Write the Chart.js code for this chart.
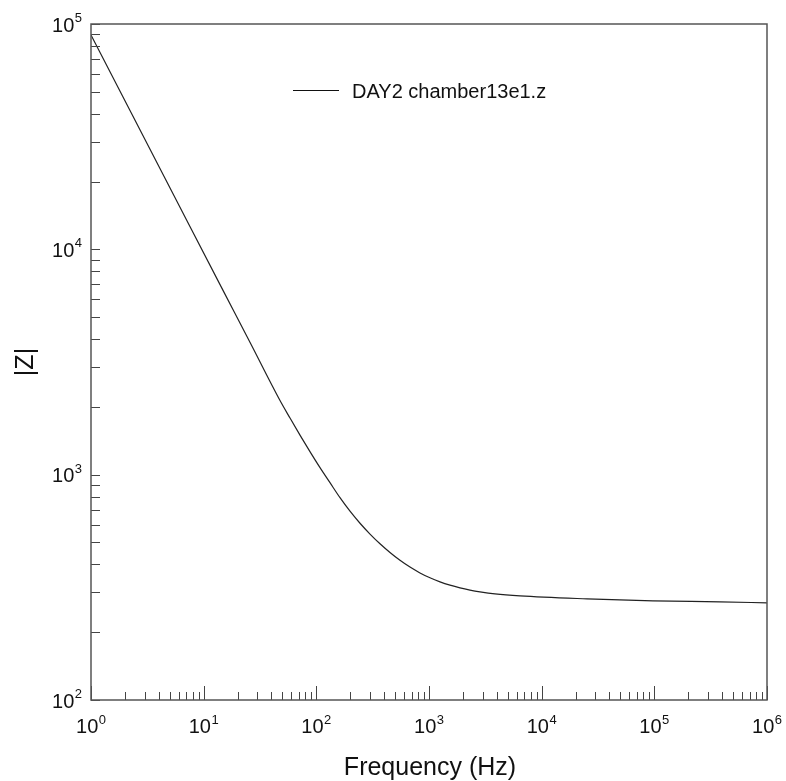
<!DOCTYPE html>
<html><head><meta charset="utf-8">
<script src="https://cdn.jsdelivr.net/npm/chart.js@4/dist/chart.umd.min.js"></script>
<style>html,body{margin:0;padding:0;background:#fff;}#wrap{width:786px;height:781px;}</style>
</head><body><div id="wrap"><canvas id="c" width="786" height="781"></canvas></div>
<script>
// ---- data ----
const frequencyHz = [1, 7.07, 14.85, 26.1, 47.6, 58.4, 71.6, 87.8, 107.8, 132.2, 162.2, 199, 244.1, 299.5, 367.3, 450.6, 552.7, 678.2, 831.8, 1020, 1252, 1536, 1884, 2311, 2835, 3852, 6421, 25250, 97270, 382500, 1000000];
const impedanceOhm = [89400, 13460, 6575, 3820, 2133, 1783, 1498, 1265.5, 1074.2, 921.2, 790.3, 688.3, 608.6, 545, 493.6, 451.6, 416.9, 388.9, 366.4, 348.5, 334.5, 323.4, 314.6, 307.6, 302, 295.6, 289.6, 281.1, 275.4, 272.6, 269.8];
const seriesLabel = 'DAY2 chamber13e1.z';
const xMajorTicks = [1, 10, 100, 1000, 10000, 100000, 1000000];
const xTickExponents = ['0', '1', '2', '3', '4', '5', '6'];
const yMajorTicks = [100, 1000, 10000, 100000];
const yTickExponents = ['2', '3', '4', '5'];
const minorMultipliers = [2, 3, 4, 5, 6, 7, 8, 9];
const xTitle = 'Frequency (Hz)';
const yTitle = '|Z|';

const FONT = "'Liberation Sans', Arial, Helvetica, sans-serif";

function drawPow(ctx, base, exp, px, py, align) {
  ctx.font = '20px ' + FONT;
  const w1 = ctx.measureText(base).width;
  ctx.font = '13px ' + FONT;
  const w2 = ctx.measureText(exp).width;
  const total = w1 + w2 + 0.5;
  let sx = align === 'center' ? px - total / 2 : px - total;
  ctx.textAlign = 'left';
  ctx.textBaseline = 'alphabetic';
  ctx.font = '20px ' + FONT;
  ctx.fillText(base, sx, py);
  ctx.font = '13px ' + FONT;
  ctx.fillText(exp, sx + w1 + 0.5, py - 9.5);
}

const framePlugin = {
  id: 'framePlugin',
  afterDraw(chart) {
    const { ctx, chartArea: a, scales: { x, y } } = chart;
    ctx.save();
    // ticks
    ctx.strokeStyle = '#444';
    ctx.lineWidth = 1;
    ctx.beginPath();
    xMajorTicks.forEach((v, i) => {
      const p = Math.round(x.getPixelForValue(v)) + 0.5;
      ctx.moveTo(p, a.bottom); ctx.lineTo(p, a.bottom - 14);
      if (i < xMajorTicks.length - 1) {
        minorMultipliers.forEach(m => {
          const q = Math.round(x.getPixelForValue(v * m)) + 0.5;
          ctx.moveTo(q, a.bottom); ctx.lineTo(q, a.bottom - 8);
        });
      }
    });
    yMajorTicks.forEach((v, i) => {
      const p = Math.round(y.getPixelForValue(v)) + 0.5;
      ctx.moveTo(a.left, p); ctx.lineTo(a.left + 9, p);
      if (i < yMajorTicks.length - 1) {
        minorMultipliers.forEach(m => {
          const q = Math.round(y.getPixelForValue(v * m)) + 0.5;
          ctx.moveTo(a.left, q); ctx.lineTo(a.left + 9, q);
        });
      }
    });
    ctx.stroke();
    // frame
    ctx.strokeStyle = '#555';
    ctx.lineWidth = 1.5;
    ctx.strokeRect(a.left, a.top, a.right - a.left, a.bottom - a.top);
    // tick labels
    ctx.fillStyle = '#111';
    xMajorTicks.forEach((v, i) => drawPow(ctx, '10', xTickExponents[i], x.getPixelForValue(v), a.bottom + 33, 'center'));
    yMajorTicks.forEach((v, i) => drawPow(ctx, '10', yTickExponents[i], a.left - 9, y.getPixelForValue(v) + 7.5, 'right'));
    // axis titles
    ctx.font = '25px ' + FONT;
    ctx.textAlign = 'center';
    ctx.textBaseline = 'alphabetic';
    ctx.fillText(xTitle, (a.left + a.right) / 2 + 1, 775);
    ctx.save();
    ctx.translate(33, 362);
    ctx.rotate(-Math.PI / 2);
    ctx.fillText(yTitle, 0, 0);
    ctx.restore();
    // legend
    const ds = chart.data.datasets[0];
    ctx.strokeStyle = '#111';
    ctx.lineWidth = 1;
    ctx.beginPath(); ctx.moveTo(293, 90.5); ctx.lineTo(339, 90.5); ctx.stroke();
    ctx.font = '20px ' + FONT;
    ctx.textAlign = 'left';
    ctx.fillText(ds.label, 352, 97.5);
    ctx.restore();
  }
};

new Chart(document.getElementById('c').getContext('2d'), {
  type: 'line',
  data: {
    datasets: [{
      label: seriesLabel,
      data: frequencyHz.map((f, i) => ({ x: f, y: impedanceOhm[i] })),
      borderColor: '#222',
      borderWidth: 1.2,
      pointRadius: 0,
      cubicInterpolationMode: 'monotone',
      fill: false
    }]
  },
  options: {
    responsive: false,
    animation: false,
    devicePixelRatio: 1,
    layout: { padding: { left: 0, right: 19, top: 24, bottom: 0 } },
    plugins: { legend: { display: false }, tooltip: { enabled: false } },
    scales: {
      x: { type: 'logarithmic', min: 1, max: 1000000, ticks: { display: false }, grid: { display: false }, border: { display: false }, afterFit(s) { s.height = 81; } },
      y: { type: 'logarithmic', min: 100, max: 100000, ticks: { display: false }, grid: { display: false }, border: { display: false }, afterFit(s) { s.width = 91; } }
    }
  },
  plugins: [framePlugin]
});
</script>
</body></html>
